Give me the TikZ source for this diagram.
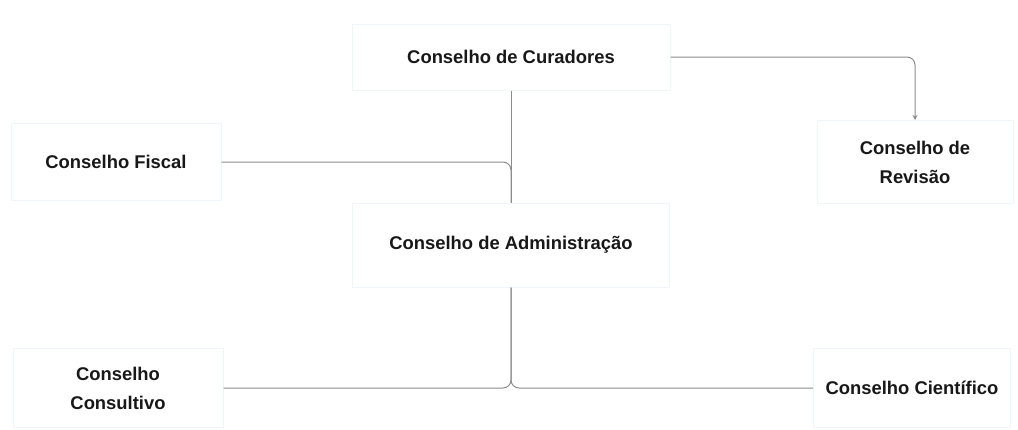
\documentclass[tikz,border=0pt]{standalone}
\usepackage{fontspec}
\setmainfont{Liberation Sans}
\usetikzlibrary{arrows.meta}
\definecolor{boxline}{RGB}{240,245,251}
\definecolor{wire}{RGB}{140,140,140}
\definecolor{ink}{RGB}{24,24,24}
\tikzset{
  org/.style={draw=boxline, line width=1pt, fill=white, rectangle, align=center,
    text=ink, font=\bfseries\fontsize{18.4}{29}\selectfont, inner sep=0pt},
  wireline/.style={draw=wire, line width=1pt, rounded corners=8pt},
}
\begin{document}
\begin{tikzpicture}[x=1pt,y=-1pt]
\useasboundingbox (0,0) rectangle (1018,429);
\node[org, minimum width=318pt, minimum height=66pt] (cur) at (511,57) {Conselho de Curadores};
\node[org, minimum width=196pt, minimum height=83pt] (rev) at (915,162) {Conselho de\\Revisão};
\node[org, minimum width=210pt, minimum height=77pt] (fis) at (116,162) {Conselho Fiscal};
\node[org, minimum width=317pt, minimum height=84pt] (adm) at (511,245) {Conselho de Administração};
\node[org, minimum width=210pt, minimum height=79pt] (con) at (118,388) {Conselho\\Consultivo};
\node[org, minimum width=197pt, minimum height=79pt] (sci) at (912,388) {Conselho Científico};
\draw[wireline, -{Stealth[length=5pt,width=5pt]}] (cur.east) -| (rev.north);
\draw[wireline] (cur.south) -- (adm.north);
\draw[wireline] (fis.east) -| (adm.north);
\draw[wireline] (adm.south) |- (con.east);
\draw[wireline] (adm.south) |- (sci.west);
\end{tikzpicture}
\end{document}
